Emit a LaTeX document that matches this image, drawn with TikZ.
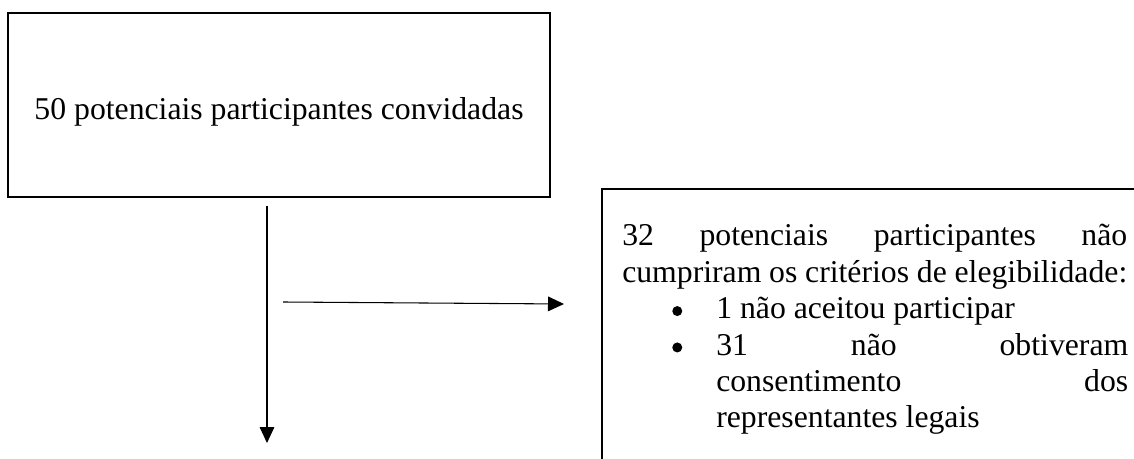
\documentclass[tikz,border=0pt]{standalone}
\usepackage{fontspec}
\setmainfont{Liberation Serif}
\usetikzlibrary{arrows.meta,calc}
\newcommand{\bulletdot}{\tikz[baseline=0pt]\fill (3.75pt,5.8pt) circle (3.75pt);}
\begin{document}
\begin{tikzpicture}[x=0.75pt,y=-0.75pt,
  box/.style={draw, line width=1.5pt, inner sep=0pt},
  conn/.style={line width=0.8pt, -{Triangle[length=12pt,width=11pt]}},
  txt/.style={font=\fontsize{23.8}{27.3}\selectfont, inner sep=0pt}]
\useasboundingbox (0,0) rectangle (1134,459);
\clip (0,0) rectangle (1134,459);
\node[box, txt, minimum width=406.5pt, minimum height=138pt,
      text height=27.5pt, text depth=5pt] (top) at (279,105)
      {50 potenciais participantes convidadas};
\node[box, anchor=north west, minimum width=420pt, minimum height=225pt] (excl) at (601,188) {};
\node[txt, anchor=base west] (excltext) at (622,246) {\parbox[t]{378.75pt}{%
\makebox[378.75pt][s]{32 potenciais participantes não}\\
\makebox[378.75pt][s]{cumpriram os critérios de elegibilidade:}\\
\hspace*{37.5pt}\makebox[33pt][l]{\bulletdot}\mbox{1 não aceitou participar}\\
\hspace*{37.5pt}\makebox[33pt][l]{\bulletdot}\makebox[309pt][s]{31 não obtiveram}\\
\hspace*{70.5pt}\makebox[309pt][s]{consentimento dos}\\
\hspace*{70.5pt}\mbox{representantes legais}}};
\coordinate (vstart) at ($(top.south)+(-12,8)$);
\coordinate (vend) at (267,443);
\draw[conn] (vstart) -- (vend);
\coordinate (hstart) at (283,302);
\coordinate (hend) at ($(excl.north west)+(-37,116)$);
\draw[conn] (hstart) -- (hend);
\end{tikzpicture}
\end{document}
